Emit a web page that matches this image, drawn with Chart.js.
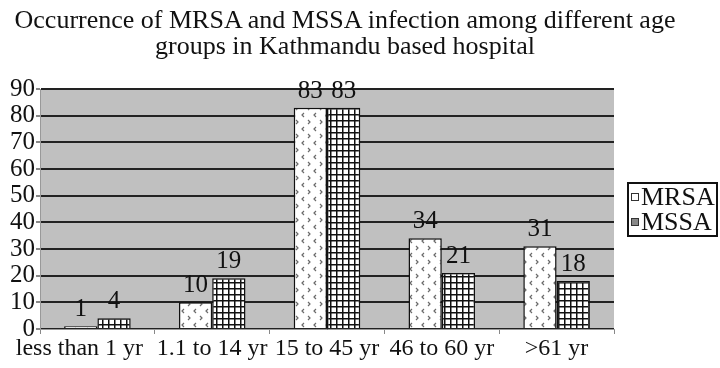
<!DOCTYPE html>
<html>
<head>
<meta charset="utf-8">
<script src="https://cdn.jsdelivr.net/npm/chart.js@4"></script>
<style>
  html, body { margin: 0; padding: 0; background: #fff; }
  #wrap { position: relative; width: 720px; height: 368px; }
  #title { position: absolute; left: 0; top: 7px; width: 690px; text-align: center; white-space: nowrap;
    font: 26px "Liberation Serif", serif; line-height: 26px; color: #111; }
  #legend { position: absolute; left: 627px; top: 182px; width: 87px; height: 51px;
    border: 2px solid #111; font: 26px "Liberation Serif", serif; color: #111; line-height: 25px; }
  #legend div { display: flex; align-items: center; padding-left: 2px; }
  #legend span { display: inline-block; width: 6px; height: 6px; border: 1px solid #333; margin-right: 2px; }
</style>
</head>
<body>
<div id="wrap">
  <canvas id="c" width="720" height="368"></canvas>
  <div id="title">Occurrence of MRSA and MSSA infection among different age<br>groups in Kathmandu based hospital</div>
  <div id="legend">
    <div><span style="background:#fff"></span>MRSA</div>
    <div><span style="background:#888"></span>MSSA</div>
  </div>
</div>
<script>
// ── Data ──────────────────────────────────────────────────────────────────────
const AGE_GROUPS = ['less than 1 yr', '1.1 to 14 yr', '15 to 45 yr', '46 to 60 yr', '>61 yr'];
const MRSA = [1, 10, 83, 34, 31];
const MSSA = [4, 19, 83, 21, 18];
const SERIF = '"Liberation Serif", serif';

// ── Fill patterns ─────────────────────────────────────────────────────────────
function makePattern(w, h, draw) {
  const cv = document.createElement('canvas');
  cv.width = w; cv.height = h;
  const g = cv.getContext('2d');
  g.fillStyle = '#fff';
  g.fillRect(0, 0, w, h);
  draw(g);
  return document.getElementById('c').getContext('2d').createPattern(cv, 'repeat');
}
const chevrons = makePattern(12, 14, (g) => {
  g.strokeStyle = '#6a6a6a'; g.lineWidth = 1.2;
  g.beginPath(); g.moveTo(4, 1); g.lineTo(2, 3); g.lineTo(4, 5); g.stroke();
  g.beginPath(); g.moveTo(8, 8); g.lineTo(10, 10); g.lineTo(8, 12); g.stroke();
});
const grid = makePattern(6, 6, (g) => {
  g.fillStyle = '#111';
  g.fillRect(0, 0, 6, 1.5);
  g.fillRect(0, 0, 1.5, 6);
});

// ── Plugins ───────────────────────────────────────────────────────────────────
const plotBg = {
  id: 'plotBg',
  beforeDraw(chart) {
    const { ctx, chartArea: a } = chart;
    ctx.save();
    ctx.fillStyle = '#c0c0c0';
    ctx.fillRect(a.left, a.top, a.right - a.left, a.bottom - a.top);
    ctx.restore();
  },
};
const valueLabels = {
  id: 'valueLabels',
  afterDatasetsDraw(chart) {
    const { ctx } = chart;
    ctx.save();
    ctx.font = `25px ${SERIF}`;
    ctx.fillStyle = '#111';
    ctx.textAlign = 'center';
    ctx.textBaseline = 'alphabetic';
    chart.data.datasets.forEach((ds, i) => {
      chart.getDatasetMeta(i).data.forEach((bar, j) => {
        ctx.fillText(ds.data[j], bar.x, bar.y - 10);
      });
    });
    ctx.restore();
  },
};

new Chart(document.getElementById('c'), {
  type: 'bar',
  data: {
    labels: AGE_GROUPS,
    datasets: [
      { label: 'MRSA', data: MRSA, backgroundColor: chevrons, borderColor: '#111', borderWidth: 1.5 },
      { label: 'MSSA', data: MSSA, backgroundColor: grid, borderColor: '#111', borderWidth: 1.5 },
    ],
  },
  options: {
    responsive: false,
    animation: false,
    layout: { padding: { top: 89, right: 106, left: 0, bottom: 0 } },
    datasets: { bar: { categoryPercentage: 0.58, barPercentage: 1 } },
    plugins: { legend: { display: false }, tooltip: { enabled: false }, title: { display: false } },
    scales: {
      x: {
        grid: { display: true, drawOnChartArea: false, offset: true, tickLength: 5, color: '#888' },
        border: { color: '#999', width: 1 },
        ticks: {
          font: { family: SERIF, size: 24 }, color: '#111', padding: 0, maxRotation: 0, autoSkip: false,
          // the first label is pushed left so it does not run into the second, as in the original
          callback(v, i) { return i === 0 ? AGE_GROUPS[i] + '      ' : AGE_GROUPS[i]; },
        },
        afterFit(s) { s.height = 39; },
      },
      y: {
        min: 0, max: 90,
        ticks: { stepSize: 10, autoSkip: false, font: { family: SERIF, size: 25 }, color: '#111', padding: 1 },
        grid: { color: '#222', lineWidth: 2, tickLength: 4, tickColor: '#888' },
        border: { color: '#999', width: 1 },
        afterFit(s) { s.width = 40; },
      },
    },
  },
  plugins: [plotBg, valueLabels],
});
</script>
</body>
</html>
